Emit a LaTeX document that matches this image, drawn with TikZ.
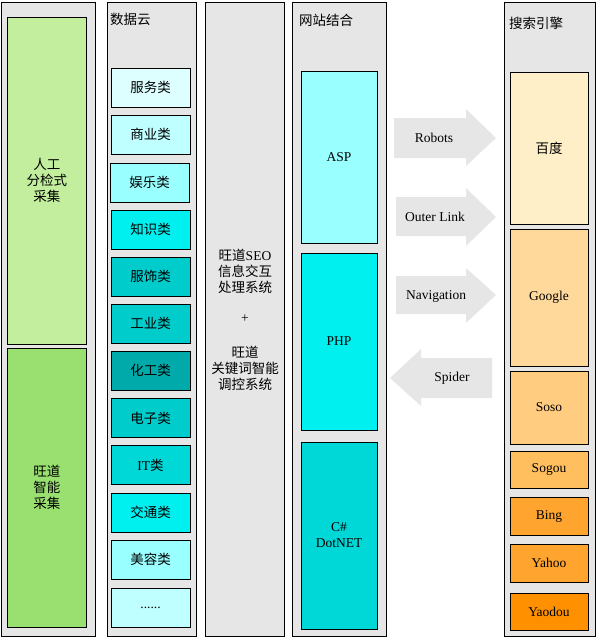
\documentclass[tikz,border=0pt]{standalone}
\usepackage{fontspec}
\setmainfont{Liberation Serif}
\newfontfamily\cjk{Noto Sans CJK SC}
\usepackage{tikz}
\usepackage{xcolor}
\definecolor{panelgray}{HTML}{E6E6E6}
\definecolor{greenA}{HTML}{C2EE9E}
\definecolor{greenB}{HTML}{99E070}
\definecolor{cyanA}{HTML}{DDFFFF}
\definecolor{cyanB}{HTML}{C0FFFF}
\definecolor{cyanC}{HTML}{99FFFF}
\definecolor{cyanD}{HTML}{00F0F0}
\definecolor{cyanE}{HTML}{00CCCC}
\definecolor{cyanF}{HTML}{00AAAA}
\definecolor{cyanG}{HTML}{00D8D8}
\definecolor{orangeA}{HTML}{FFEFC8}
\definecolor{orangeB}{HTML}{FFD89B}
\definecolor{orangeC}{HTML}{FFCC80}
\definecolor{orangeD}{HTML}{FFBF5F}
\definecolor{orangeE}{HTML}{FFA52F}
\definecolor{orangeF}{HTML}{FF9100}

\begin{document}
\begin{tikzpicture}[x=1pt, y=-1pt,
    font=\fontsize{13.5}{16}\selectfont,
    panel/.style={draw, line width=1pt, fill=panelgray},
    cell/.style={draw, line width=1pt, inner sep=0pt, align=center, minimum width=79pt},
    datacell/.style={cell, minimum height=39pt},
    blockarrow/.style={fill=panelgray},
    title/.style={anchor=west, inner sep=0pt}]
    \useasboundingbox (0,0) rectangle (596,638);

    % five grey columns
    \draw[panel] (1,2) rectangle (95,636);
    \draw[panel] (107,2) rectangle (196,636);
    \draw[panel] (205,2) rectangle (284,636);
    \draw[panel] (292,2) rectangle (386,636);
    \draw[panel] (504,2) rectangle (595,636);

    \node[title] (t-data) at (110,19) {\cjk 数据云};
    \node[title] (t-site) at (299,20) {\cjk 网站结合};
    \node[title] (t-engine) at (509,23) {\cjk 搜索引擎};

    % collecting
    \node[cell, fill=greenA, minimum height=327pt] (manual) at (47,180.5) {\cjk 人工\\\cjk 分检式\\\cjk 采集};
    \node[cell, fill=greenB, minimum height=279pt] (smart) at (47,487.5) {\cjk 旺道\\\cjk 智能\\\cjk 采集};

    % data cloud
    \node[datacell, fill=cyanA] (d1) at (150.5,87.5) {\cjk 服务类};
    \node[datacell, fill=cyanB] (d2) at (150.5,134.5) {\cjk 商业类};
    \node[datacell, fill=cyanC] (d3) at (149.5,182.5) {\cjk 娱乐类};
    \node[datacell, fill=cyanD] (d4) at (150.5,229.5) {\cjk 知识类};
    \node[datacell, fill=cyanE] (d5) at (150.5,276.5) {\cjk 服饰类};
    \node[datacell, fill=cyanE] (d6) at (150.5,323.5) {\cjk 工业类};
    \node[datacell, fill=cyanF] (d7) at (150.5,370.5) {\cjk 化工类};
    \node[datacell, fill=cyanE] (d8) at (150.5,418) {\cjk 电子类};
    \node[datacell, fill=cyanG] (d9) at (150.5,465) {IT{\cjk 类}};
    \node[datacell, fill=cyanD] (d10) at (150.5,512.5) {\cjk 交通类};
    \node[datacell, fill=cyanC] (d11) at (150.5,559.5) {\cjk 美容类};
    \node[datacell, fill=cyanB] (d12) at (150.5,607.5) {......};

    % processing
    \node[align=center] (seo) at (245,271.5) {{\cjk 旺道}SEO\\\cjk 信息交互\\\cjk 处理系统};
    \node (plus) at (245,319) {+};
    \node[align=center] (kw) at (245,368) {\cjk 旺道\\\cjk 关键词智能\\\cjk 调控系统};

    % sites
    \node[cell, fill=cyanC, minimum width=76pt, minimum height=172pt] (asp) at (339,157) {ASP};
    \node[cell, fill=cyanD, minimum width=76pt, minimum height=177pt] (php) at (339,341.5) {PHP};
    \node[cell, fill=cyanG, minimum width=76pt, minimum height=187pt] (net) at (339,535.5) {C\#\\DotNET};

    % search engines
    \node[cell, fill=orangeA, minimum width=78pt, minimum height=152pt] (baidu) at (549,148) {\cjk 百度};
    \node[cell, fill=orangeB, minimum width=78pt, minimum height=137pt] (google) at (549,297.5) {Google};
    \node[cell, fill=orangeC, minimum width=78pt, minimum height=73pt] (soso) at (549,407.5) {Soso};
    \node[cell, fill=orangeD, minimum width=78pt, minimum height=37pt] (sogou) at (549,469.5) {Sogou};
    \node[cell, fill=orangeE, minimum width=78pt, minimum height=38pt] (bing) at (549,516) {Bing};
    \node[cell, fill=orangeE, minimum width=78pt, minimum height=38pt] (yahoo) at (549,563) {Yahoo};
    \node[cell, fill=orangeF, minimum width=78pt, minimum height=37pt] (yaodou) at (549,611.5) {Yaodou};

    % block arrows
    \fill[blockarrow] (394,118) -- (466,118) -- (466,109) -- (496,138) -- (466,166) -- (466,158) -- (394,158) -- cycle;
    \fill[blockarrow] (396,197) -- (466,197) -- (466,188) -- (496,217) -- (466,246) -- (466,236) -- (396,236) -- cycle;
    \fill[blockarrow] (396,276) -- (466,276) -- (466,268) -- (496,295) -- (466,323) -- (466,314) -- (396,314) -- cycle;
    \fill[blockarrow] (492,358) -- (421,358) -- (421,349) -- (390,378) -- (421,406) -- (421,398) -- (492,398) -- cycle;
    \node (robots) at (434,138) {Robots};
    \node (outer) at (435,217) {Outer Link};
    \node (nav) at (436,296) {Navigation};
    \node (spider) at (452,378) {Spider};
\end{tikzpicture}
\end{document}
